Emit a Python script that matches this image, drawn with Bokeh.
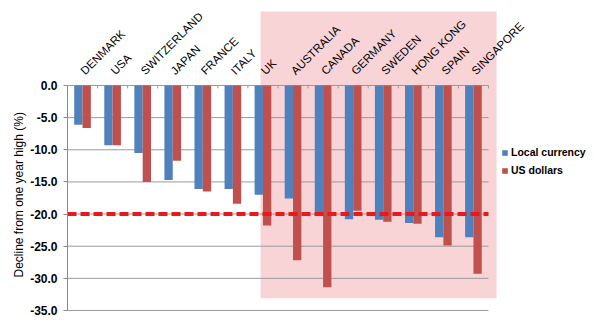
import math
from bokeh.plotting import figure
from bokeh.models import (ColumnDataSource, Range1d, FixedTicker, PrintfTickFormatter,
                          Legend, LegendItem, Title)
from bokeh.core.properties import value
from bokeh.embed import file_html
from bokeh.resources import INLINE

# ---- data ----
countries = ["DENMARK", "USA", "SWITZERLAND", "JAPAN", "FRANCE", "ITALY", "UK",
             "AUSTRALIA", "CANADA", "GERMANY", "SWEDEN", "HONG KONG", "SPAIN", "SINGAPORE"]
local_currency = [-6.1, -9.3, -10.5, -14.7, -16.1, -16.1, -17.0,
                  -17.6, -19.9, -20.8, -20.9, -21.4, -23.6, -23.6]
us_dollars = [-6.6, -9.3, -15.0, -11.7, -16.5, -18.4, -21.8,
              -27.2, -31.4, -19.5, -21.2, -21.5, -24.9, -29.3]
y_ticks = [0, -5, -10, -15, -20, -25, -30, -35]
threshold = -20
highlight_from = "UK"
y_title = "Decline from one year high (%)"

n = len(countries)
centers = [i + 0.5 for i in range(n)]
bw = 0.277

p = figure(width=600, height=323, output_backend="svg", toolbar_location=None,
           x_range=Range1d(0, 533 / 30.07), y_range=Range1d(-35.47, 13.22),
           x_axis_location=None, min_border_left=67, min_border_right=0,
           min_border_top=0, min_border_bottom=10)
p.outline_line_color = None
p.grid.visible = False
p.background_fill_color = "white"
p.border_fill_color = "white"

# highlight region
h0 = countries.index(highlight_from)
p.quad(left=[h0 + 0.42], right=[n + 0.27], bottom=[-33.1], top=[11.5],
       fill_color="#F9D4D7", line_color=None)

# gridlines
p.segment(x0=[0] * len(y_ticks), x1=[n] * len(y_ticks), y0=y_ticks, y1=y_ticks,
          line_color="#9a9a9a", line_width=1)
# category tick marks on zero line
p.segment(x0=list(range(n + 1)), x1=list(range(n + 1)), y0=[0] * (n + 1), y1=[-0.45] * (n + 1),
          line_color="#9a9a9a", line_width=1)

src = ColumnDataSource(dict(
    xb=[c - bw / 2 for c in centers], xr=[c + bw / 2 for c in centers],
    lc=local_currency, ud=us_dollars, c=centers, name=countries,
    ly=[2.0] * n))
rb = p.vbar(x="xb", top="lc", bottom=0, width=bw, source=src,
            fill_color="#4F81BD", line_color=None)
rr = p.vbar(x="xr", top="ud", bottom=0, width=bw, source=src,
            fill_color="#C0504D", line_color=None)

# threshold line
p.line(x=[0, n], y=[threshold, threshold], line_color="#E8191D", line_width=4,
       line_dash="9 4")

# category labels
p.text(x="c", y="ly", text="name", source=src, angle=math.pi / 4,
       text_align="left", text_baseline="alphabetic",
       text_font=value("Liberation Sans"), text_font_size="11.5px", text_color="black")

# y axis
ax = p.yaxis[0]
ax.ticker = FixedTicker(ticks=y_ticks)
ax.formatter = PrintfTickFormatter(format="%.1f")
ax.bounds = (min(y_ticks), max(y_ticks))
ax.axis_line_color = "#8a8a8a"
ax.major_tick_line_color = "#8a8a8a"
ax.major_tick_out = 4
ax.major_tick_in = 0
ax.minor_tick_line_color = None
ax.major_label_standoff = 6
ax.major_label_text_font = "Liberation Sans"
ax.major_label_text_font_size = "12px"
ax.major_label_text_font_style = "bold"
ax.major_label_text_color = "black"

# y axis title, anchored at the bottom and lifted to sit beside the axis span
p.add_layout(Title(text=y_title, align="left", offset=36, standoff=3,
                   text_font="Liberation Sans", text_font_size="12px",
                   text_font_style="normal", text_color="black"), "left")

legend = Legend(items=[LegendItem(label="Local currency", renderers=[rb]),
                       LegendItem(label="US dollars", renderers=[rr])],
                location=(434, 137), orientation="vertical",
                glyph_width=7, glyph_height=7, label_standoff=3, padding=0, spacing=6,
                label_height=12, label_text_font="Liberation Sans",
                label_text_font_size="10.5px", label_text_font_style="bold",
                label_text_color="black", border_line_color=None,
                background_fill_alpha=0, margin=0)
p.add_layout(legend)

open("out.html", "w").write(file_html(p, INLINE))
